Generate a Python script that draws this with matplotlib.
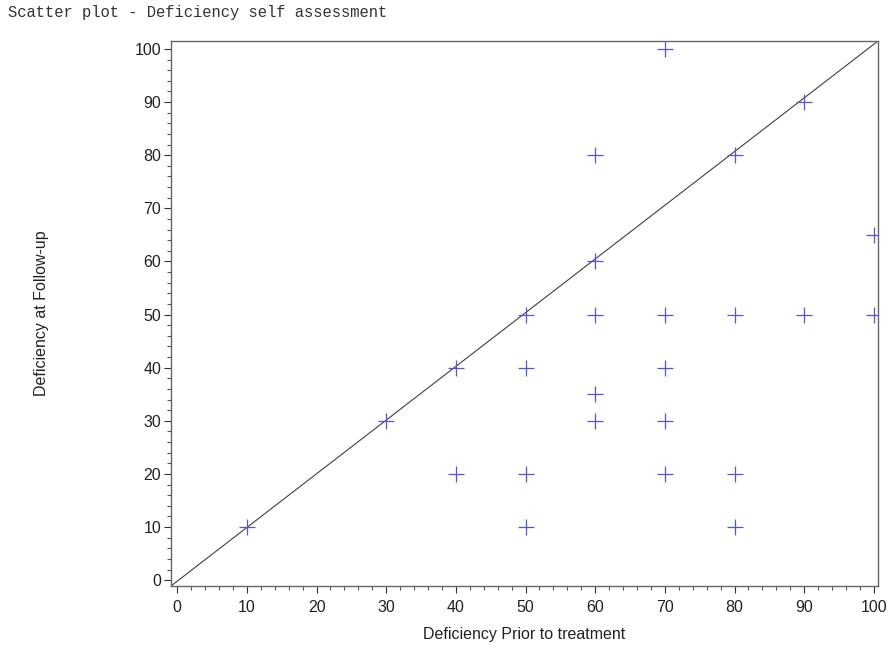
import matplotlib
matplotlib.use("Agg")
import matplotlib.pyplot as plt
from matplotlib.ticker import MultipleLocator

# data
prior = [10, 30, 40, 40, 50, 50, 50, 50, 60, 60, 60, 60, 60,
         70, 70, 70, 70, 70, 80, 80, 80, 80, 90, 90, 100, 100]
followup = [10, 30, 40, 20, 50, 40, 20, 10, 80, 60, 50, 35, 30,
            100, 50, 40, 30, 20, 80, 50, 20, 10, 90, 50, 65, 50]
ticks = [0, 10, 20, 30, 40, 50, 60, 70, 80, 90, 100]

plt.rcParams['font.family'] = ['Liberation Sans', 'DejaVu Sans']

fig = plt.figure(figsize=(8.91, 6.48), dpi=100)
ax = fig.add_axes([0.1919, 0.0957, 0.7935, 0.841])

# identity line corner to corner
ax.plot([-0.9, 100.6], [-1.1, 101.5], color='#404040', linewidth=0.8)
ax.scatter(prior, followup, marker='+', s=130, color='#5656d4', linewidths=0.9, zorder=3)

ax.set_xlim(-0.9, 100.6)
ax.set_ylim(-1.1, 101.5)
ax.set_xticks(ticks)
ax.set_yticks(ticks)
ax.xaxis.set_minor_locator(MultipleLocator(2))
ax.yaxis.set_minor_locator(MultipleLocator(2))
ax.tick_params(axis='both', which='major', direction='out', length=5, width=0.8,
               colors='#333333', labelsize=11.5, labelcolor='#222222')
ax.tick_params(axis='x', which='major', pad=5)
ax.tick_params(axis='y', which='major', pad=2)
ax.tick_params(axis='both', which='minor', direction='out', length=3, width=0.8, colors='#555555')
for sp in ax.spines.values():
    sp.set_color('#666666')
    sp.set_linewidth(1.0)

ax.set_xlabel("Deficiency Prior to treatment", fontsize=11.5, color='#222222', labelpad=9)
ax.set_ylabel("Deficiency at Follow-up", fontsize=11.5, color='#222222', labelpad=62)

fig.text(0.009, 0.993, "Scatter plot - Deficiency self assessment", family='Liberation Mono',
         fontsize=11.2, color='#333333', va='top', ha='left')

fig.savefig("out.png", dpi=100)
